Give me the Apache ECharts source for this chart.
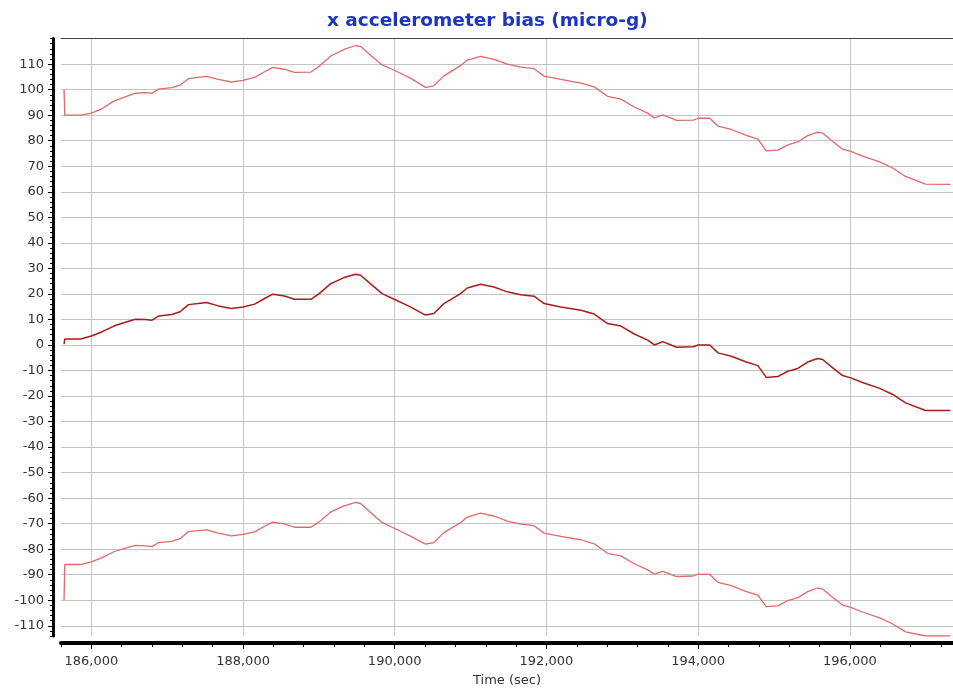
<!DOCTYPE html>
<html>
<head>
<meta charset="utf-8">
<script src="https://cdn.jsdelivr.net/npm/echarts@6/dist/echarts.min.js"></script>
<style>html,body{margin:0;padding:0;background:#fff}#c{width:953px;height:692px}</style>
</head>
<body>
<div id="c"></div>
<script>
const titleText = 'x accelerometer bias (micro-g)';
const xAxisName = 'Time (sec)';

const times = [185640,185650,185860,186000,186144,186297,186428,186581,186712,186800,186886,187061,187170,187280,187410,187520,187673,187847,188000,188153,188284,188393,188546,188677,188895,189004,189157,189332,189485,189550,189678,189833,190000,190207,190405,190515,190648,190868,190956,191132,191308,191484,191661,191837,191969,192189,192454,192630,192806,192982,193158,193335,193423,193533,193716,193934,194000,194153,194263,194438,194635,194788,194897,195050,195182,195313,195444,195575,195641,195750,195904,196013,196166,196385,196560,196735,196998,197326];

const biasMid = [0.3,2.3,2.3,3.5,5.2,7.4,8.7,10.1,10.0,9.7,11.3,11.9,13.0,15.8,16.2,16.6,15.3,14.3,14.9,16.0,18.2,19.9,19.2,17.9,17.9,20.1,24.0,26.4,27.7,27.3,24.0,20.1,17.8,14.9,11.7,12.3,16.2,20.1,22.3,23.8,22.7,20.8,19.7,19.1,16.2,14.9,13.6,12.1,8.4,7.4,4.3,1.9,0.0,1.3,-0.9,-0.7,0.0,0.0,-3.1,-4.4,-6.7,-8.1,-12.7,-12.4,-10.3,-9.2,-6.7,-5.3,-5.7,-8.4,-12.0,-12.9,-14.7,-16.9,-19.3,-22.7,-25.7,-25.7];

const biasUpper = [100,90,90.0,90.8,92.6,95.5,97.0,98.6,98.8,98.6,100.2,100.8,101.8,104.3,104.8,105.2,104.0,103.0,103.6,104.8,107.0,108.7,108.0,106.8,106.9,109.2,113.2,115.8,117.3,116.9,113.6,109.7,107.5,104.5,100.9,101.5,105.4,109.4,111.6,113.0,111.9,110.0,108.8,108.2,105.3,104.0,102.6,101.1,97.4,96.3,93.2,90.8,88.9,90.1,88.0,88.1,88.8,88.8,85.7,84.4,82.1,80.6,76.0,76.3,78.4,79.5,82.0,83.4,83.0,80.3,76.7,75.8,74.0,71.8,69.4,66.0,63.0,62.9];

const biasLower = [-100,-86,-86.0,-85.0,-83.3,-81.0,-79.8,-78.5,-78.7,-79.0,-77.4,-76.9,-75.9,-73.1,-72.7,-72.4,-73.7,-74.8,-74.2,-73.2,-71.0,-69.4,-70.1,-71.4,-71.4,-69.3,-65.4,-63.0,-61.7,-62.1,-65.5,-69.5,-71.9,-74.9,-78.0,-77.4,-73.5,-69.6,-67.4,-65.9,-67.0,-69.0,-70.2,-70.8,-73.7,-75.0,-76.3,-77.9,-81.6,-82.6,-85.7,-88.1,-89.8,-88.7,-90.7,-90.5,-89.8,-89.9,-93.0,-94.3,-96.6,-98.0,-102.5,-102.2,-100.1,-99.0,-96.6,-95.2,-95.6,-98.3,-101.9,-102.8,-104.6,-106.8,-109.2,-112.4,-114.0,-114.0];

const xRange = [185600, 197360];
const yRange = [-114, 120];
const xMajorStep = 2000, xMinorStep = 400;
const yMajorStep = 10, yMinorStep = 2;

function zip(xs, ys) { return xs.map((x, i) => [x, ys[i]]); }
const fontFamily = 'DejaVu Sans, Verdana, sans-serif';

const chart = echarts.init(document.getElementById('c'), null, {renderer: 'canvas'});
chart.setOption({
  animation: false,
  backgroundColor: '#ffffff',
  title: {
    text: titleText, left: 322, top: 7,
    textStyle: {color: '#1f35c0', fontSize: 18.5, fontWeight: 'bold', fontFamily: fontFamily}
  },
  grid: {left: 61, top: 38.6, right: 0, bottom: 56, containLabel: false},
  xAxis: [
    {
      type: 'value', min: xRange[0], max: xRange[1],
      minInterval: xMajorStep, maxInterval: xMajorStep,
      position: 'bottom', offset: 7,
      name: xAxisName, nameLocation: 'middle', nameGap: 31,
      nameTextStyle: {color: '#333', fontSize: 13, fontFamily: fontFamily},
      axisLine: {onZero: false, lineStyle: {color: '#000', width: 4}},
      axisTick: {show: true, length: 6, lineStyle: {color: '#000', width: 1}},
      axisLabel: {
        color: '#333', fontSize: 13, fontFamily: fontFamily, margin: 12,
        showMinLabel: false, showMaxLabel: false,
        formatter: v => v.toLocaleString('en-US')
      },
      splitLine: {show: true, showMinLine: false, showMaxLine: false, lineStyle: {color: '#c4c4c4', width: 1}}
    },
    {
      type: 'value', min: xRange[0], max: xRange[1], interval: xMinorStep,
      position: 'bottom', offset: 7,
      axisLine: {show: false, onZero: false},
      axisTick: {show: true, length: 4, lineStyle: {color: '#000', width: 1}},
      axisLabel: {show: false}, splitLine: {show: false}
    },
    {
      type: 'value', min: xRange[0], max: xRange[1],
      position: 'top',
      axisLine: {show: true, onZero: false, lineStyle: {color: '#444', width: 1}},
      axisTick: {show: false}, axisLabel: {show: false}, splitLine: {show: false}
    }
  ],
  yAxis: [
    {
      type: 'value', min: yRange[0], max: yRange[1],
      minInterval: yMajorStep, maxInterval: yMajorStep,
      position: 'left', offset: 8,
      axisLine: {show: true, onZero: false, lineStyle: {color: '#000', width: 3}},
      axisTick: {show: true, length: 5, lineStyle: {color: '#000', width: 1}},
      axisLabel: {
        color: '#333', fontSize: 13, fontFamily: fontFamily, margin: 9,
        showMinLabel: false, showMaxLabel: false
      },
      splitLine: {show: true, showMinLine: false, showMaxLine: false, lineStyle: {color: '#c4c4c4', width: 1}}
    },
    {
      type: 'value', min: yRange[0], max: yRange[1], interval: yMinorStep,
      position: 'left', offset: 8,
      axisLine: {show: false, onZero: false},
      axisTick: {show: true, length: 3, lineStyle: {color: '#000', width: 1}},
      axisLabel: {show: false}, splitLine: {show: false}
    }
  ],
  series: [
    {
      name: 'upper', type: 'line', xAxisIndex: 0, yAxisIndex: 0,
      data: zip(times, biasUpper), showSymbol: false, symbol: 'none',
      lineStyle: {color: '#e06a6a', width: 1.3}
    },
    {
      name: 'bias', type: 'line', xAxisIndex: 0, yAxisIndex: 0,
      data: zip(times, biasMid), showSymbol: false, symbol: 'none',
      lineStyle: {color: '#a81c1c', width: 1.5}
    },
    {
      name: 'lower', type: 'line', xAxisIndex: 0, yAxisIndex: 0,
      data: zip(times, biasLower), showSymbol: false, symbol: 'none',
      lineStyle: {color: '#e06a6a', width: 1.3}
    }
  ]
});
</script>
</body>
</html>
